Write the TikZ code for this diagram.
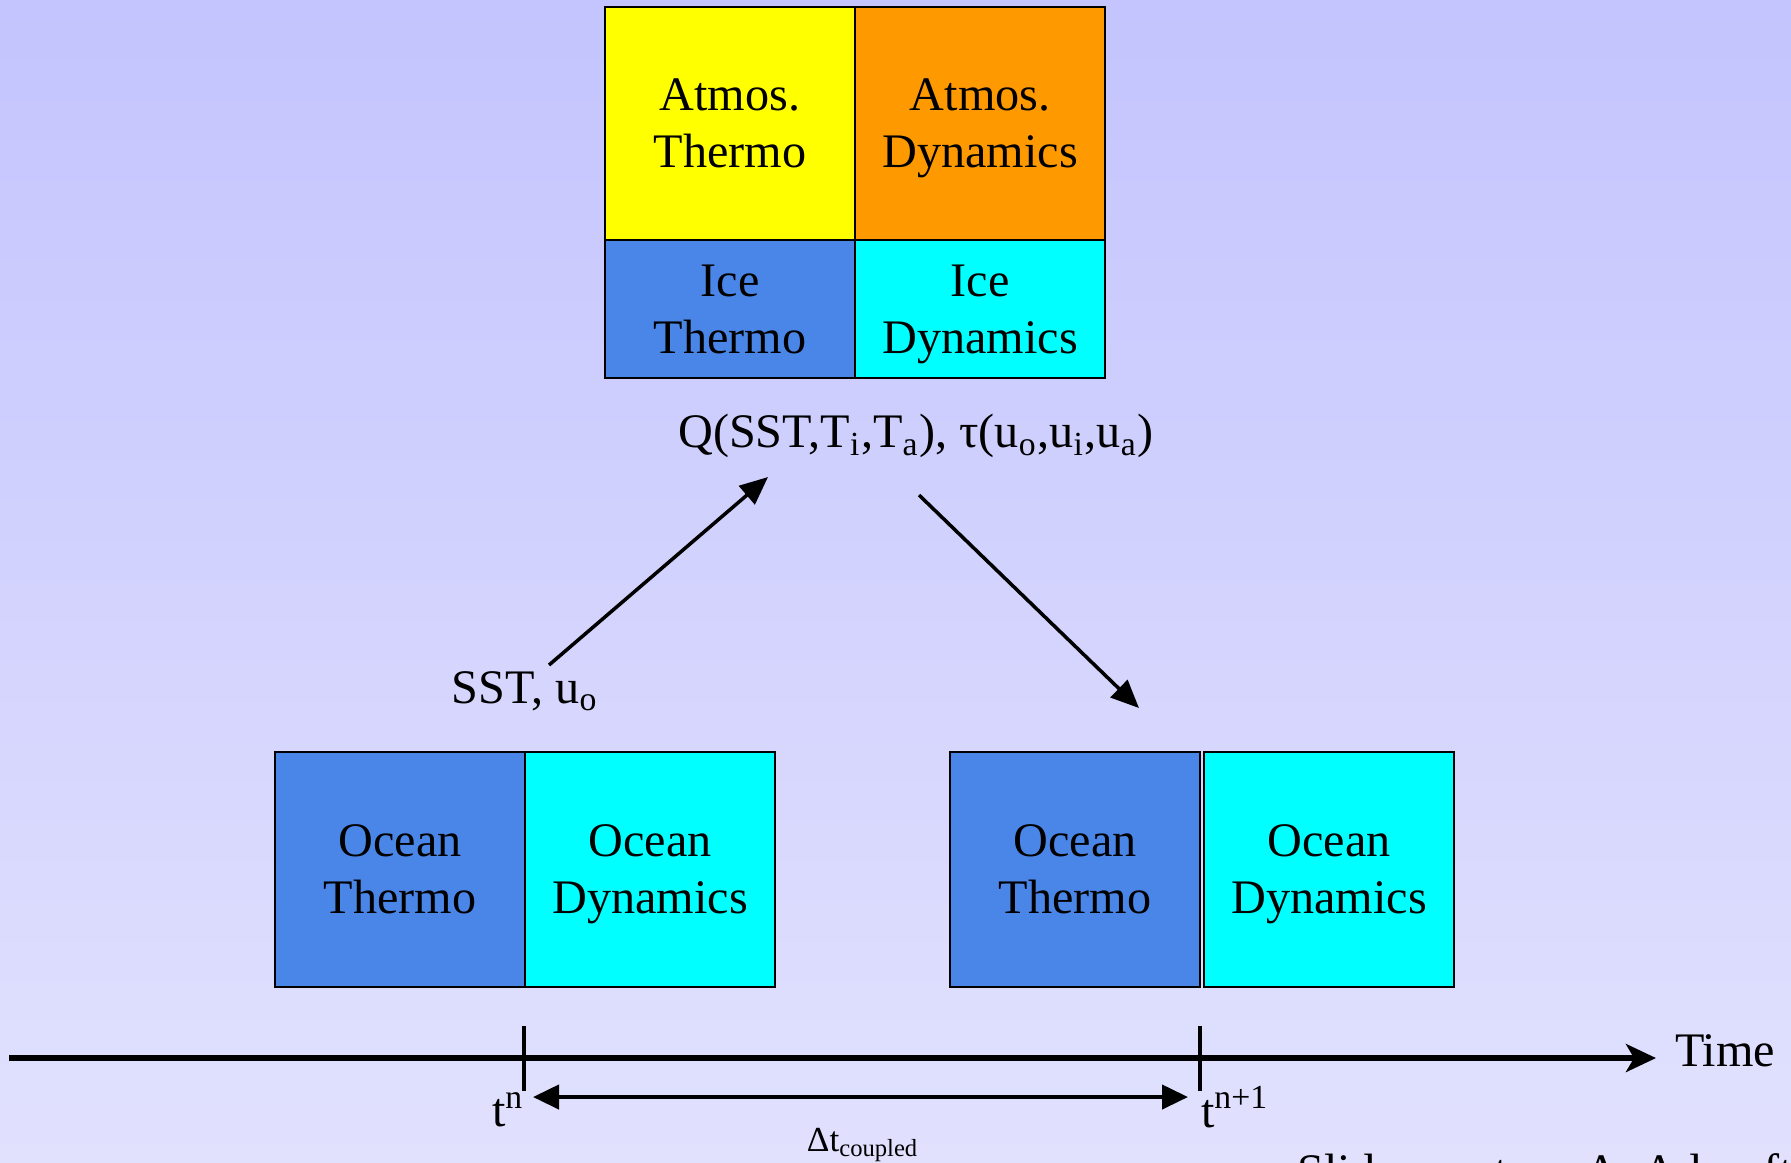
\documentclass[tikz,border=0pt]{standalone}
\usepackage{fontspec}
\setmainfont{Liberation Serif}
\usetikzlibrary{positioning}
\usetikzlibrary{arrows.meta}

\definecolor{bgtop}{RGB}{196,196,254}
\definecolor{bgbot}{RGB}{225,225,254}
\definecolor{thermoblue}{RGB}{74,134,232}
\definecolor{dyncyan}{RGB}{0,255,255}
\definecolor{atmyellow}{RGB}{255,255,0}
\definecolor{atmorange}{RGB}{255,153,0}

\newcommand{\lo}[1]{\textsubscript{#1}}
\newcommand{\hi}[1]{\textsuperscript{#1}}

\tikzset{
    cell/.style={draw=black, line width=0.6pt, minimum width=2.5cm, align=center, text depth=-0.15cm, inner sep=0pt, outer sep=0pt, font=\fontsize{13.7}{16.2}\selectfont},
    lbl/.style={inner sep=0pt, font=\fontsize{13.7}{16.2}\selectfont},
    flux/.style={line width=1pt, -{Triangle[length=0.28cm, width=0.24cm]}},
    tick/.style={line width=0.9pt},
}

\begin{document}
\begin{tikzpicture}[x=0.01cm, y=-0.01cm]
    \useasboundingbox (0,0) rectangle (1791,1162);
    \shade[top color=bgtop, bottom color=bgbot] (0,0) rectangle (1791,1162);

    % atmosphere and ice
    \node[cell, fill=atmyellow, minimum height=2.33cm] (at) at (730,123.5) {Atmos.\\Thermo};
    \node[cell, fill=atmorange, minimum height=2.33cm, right=0pt of at] (ad) {Atmos.\\Dynamics};
    \node[cell, fill=thermoblue, minimum height=1.38cm, below=0pt of at] (it) {Ice\\Thermo};
    \node[cell, fill=dyncyan, minimum height=1.38cm, right=0pt of it] (id) {Ice\\Dynamics};

    % ocean at t^n and t^{n+1}
    \node[cell, fill=thermoblue, minimum height=2.35cm] (ot1) at (400,869.5) {Ocean\\Thermo};
    \node[cell, fill=dyncyan, minimum height=2.35cm, right=0pt of ot1] (od1) {Ocean\\Dynamics};
    \node[cell, fill=thermoblue, minimum height=2.35cm] (ot2) at (1075,869.5) {Ocean\\Thermo};
    \node[cell, fill=dyncyan, minimum height=2.35cm, right=0.04cm of ot2] (od2) {Ocean\\Dynamics};

    \node[lbl] (q) at (916,436) {Q(SST,T\lo{i},T\lo{a}), τ(u\lo{o},u\lo{i},u\lo{a})};
    \node[lbl] (sst) at (525,691) {SST, u\lo{o}};

    \coordinate (up0) at (549,665);
    \coordinate (up1) at (768,477);
    \coordinate (dn0) at (919,495);
    \coordinate (dn1) at (1139,708);
    \draw[flux] (up0) -- (up1);
    \draw[flux] (dn0) -- (dn1);

    % time axis
    \coordinate (t0) at (9,1058);
    \coordinate (t1) at (1656,1058);
    \draw[line width=1.5pt, -{Stealth[length=0.3cm, width=0.28cm, inset=0.08cm]}] (t0) -- (t1);
    \node[lbl] (time) at (1725,1051) {Time};

    \coordinate (na) at (524,1026);
    \coordinate (nb) at (524,1091);
    \coordinate (ma) at (1200,1026);
    \coordinate (mb) at (1200,1091);
    \draw[tick] (na) -- (nb);
    \draw[tick] (ma) -- (mb);

    \coordinate (da) at (533,1097);
    \coordinate (db) at (1188,1097);
    \draw[line width=1.2pt, {Triangle[length=0.26cm, width=0.24cm]}-{Triangle[length=0.26cm, width=0.24cm]}] (da) -- (db);

    \node[lbl] (tn) at (508,1110) {t\hi{n}};
    \node[lbl] (tn1) at (1235,1107) {t\hi{n+1}};
    \node[lbl, font=\fontsize{10}{12}\selectfont] (dt) at (863,1145) {Δt\lo{coupled}};

    \node[lbl, anchor=base west] (credit) at (1297,1187) {Slide courtesy A. Adcroft};
\end{tikzpicture}
\end{document}
